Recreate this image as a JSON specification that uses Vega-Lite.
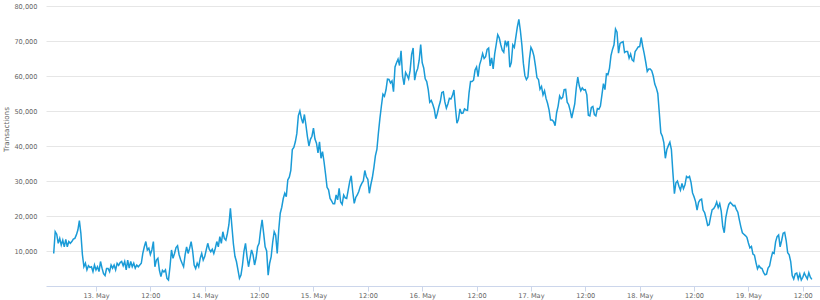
{
"$schema": "https://vega.github.io/schema/vega-lite/v6.json",
"width": 774, "height": 280,
"autosize": "none",
"padding": {"left": 46, "top": 6, "right": 0, "bottom": 14},
"background": "white",
"config": {"view": {"stroke": null}, "font": "DejaVu Sans"},
"data": {"values": [
{"t":"2018-05-12T14:40:00Z","v":9300},{"t":"2018-05-12T15:00:00Z","v":15500},{"t":"2018-05-12T15:20:00Z","v":14800},{"t":"2018-05-12T15:40:00Z","v":12200},{"t":"2018-05-12T16:00:00Z","v":13600},{"t":"2018-05-12T16:20:00Z","v":11700},{"t":"2018-05-12T16:40:00Z","v":13100},{"t":"2018-05-12T17:00:00Z","v":11200},{"t":"2018-05-12T17:20:00Z","v":13300},{"t":"2018-05-12T17:40:00Z","v":11200},{"t":"2018-05-12T18:00:00Z","v":12700},{"t":"2018-05-12T18:20:00Z","v":12200},{"t":"2018-05-12T18:40:00Z","v":12700},{"t":"2018-05-12T19:00:00Z","v":13400},{"t":"2018-05-12T19:20:00Z","v":13600},{"t":"2018-05-12T19:40:00Z","v":14600},{"t":"2018-05-12T20:00:00Z","v":16000},{"t":"2018-05-12T20:20:00Z","v":18700},{"t":"2018-05-12T20:40:00Z","v":15000},{"t":"2018-05-12T21:00:00Z","v":9000},{"t":"2018-05-12T21:20:00Z","v":5500},{"t":"2018-05-12T21:40:00Z","v":6500},{"t":"2018-05-12T22:00:00Z","v":4600},{"t":"2018-05-12T22:20:00Z","v":5800},{"t":"2018-05-12T22:40:00Z","v":5300},{"t":"2018-05-12T23:00:00Z","v":5500},{"t":"2018-05-12T23:20:00Z","v":4100},{"t":"2018-05-12T23:40:00Z","v":6000},
{"t":"2018-05-13T00:00:00Z","v":4600},{"t":"2018-05-13T00:20:00Z","v":5500},{"t":"2018-05-13T00:40:00Z","v":4100},{"t":"2018-05-13T01:00:00Z","v":7000},{"t":"2018-05-13T01:20:00Z","v":5100},{"t":"2018-05-13T01:40:00Z","v":3500},{"t":"2018-05-13T02:00:00Z","v":3000},{"t":"2018-05-13T02:20:00Z","v":5000},{"t":"2018-05-13T02:40:00Z","v":5000},{"t":"2018-05-13T03:00:00Z","v":4100},{"t":"2018-05-13T03:20:00Z","v":6000},{"t":"2018-05-13T03:40:00Z","v":5100},{"t":"2018-05-13T04:00:00Z","v":6000},{"t":"2018-05-13T04:20:00Z","v":4600},{"t":"2018-05-13T04:40:00Z","v":6500},{"t":"2018-05-13T05:00:00Z","v":5900},{"t":"2018-05-13T05:20:00Z","v":6700},{"t":"2018-05-13T05:40:00Z","v":7000},{"t":"2018-05-13T06:00:00Z","v":5800},{"t":"2018-05-13T06:20:00Z","v":7000},{"t":"2018-05-13T06:40:00Z","v":4600},{"t":"2018-05-13T07:00:00Z","v":7400},{"t":"2018-05-13T07:20:00Z","v":5100},{"t":"2018-05-13T07:40:00Z","v":7000},{"t":"2018-05-13T08:00:00Z","v":5500},{"t":"2018-05-13T08:20:00Z","v":6500},{"t":"2018-05-13T08:40:00Z","v":5100},{"t":"2018-05-13T09:00:00Z","v":6000},{"t":"2018-05-13T09:20:00Z","v":5500},{"t":"2018-05-13T09:40:00Z","v":6000},{"t":"2018-05-13T10:00:00Z","v":6500},{"t":"2018-05-13T10:20:00Z","v":9300},{"t":"2018-05-13T10:40:00Z","v":11200},{"t":"2018-05-13T11:00:00Z","v":12700},{"t":"2018-05-13T11:20:00Z","v":10300},{"t":"2018-05-13T11:40:00Z","v":10800},{"t":"2018-05-13T12:00:00Z","v":9000},{"t":"2018-05-13T12:20:00Z","v":10300},{"t":"2018-05-13T12:40:00Z","v":12700},{"t":"2018-05-13T13:00:00Z","v":5500},{"t":"2018-05-13T13:20:00Z","v":7400},{"t":"2018-05-13T13:40:00Z","v":7900},{"t":"2018-05-13T14:00:00Z","v":4500},{"t":"2018-05-13T14:20:00Z","v":2700},{"t":"2018-05-13T14:40:00Z","v":4500},{"t":"2018-05-13T15:00:00Z","v":4000},{"t":"2018-05-13T15:20:00Z","v":4600},{"t":"2018-05-13T15:40:00Z","v":2200},{"t":"2018-05-13T16:00:00Z","v":1700},{"t":"2018-05-13T16:20:00Z","v":5500},{"t":"2018-05-13T16:40:00Z","v":10300},{"t":"2018-05-13T17:00:00Z","v":7900},{"t":"2018-05-13T17:20:00Z","v":9300},{"t":"2018-05-13T17:40:00Z","v":11000},{"t":"2018-05-13T18:00:00Z","v":11500},{"t":"2018-05-13T18:20:00Z","v":9000},{"t":"2018-05-13T18:40:00Z","v":7600},{"t":"2018-05-13T19:00:00Z","v":6500},{"t":"2018-05-13T19:20:00Z","v":5500},{"t":"2018-05-13T19:40:00Z","v":8900},{"t":"2018-05-13T20:00:00Z","v":11200},{"t":"2018-05-13T20:20:00Z","v":9300},{"t":"2018-05-13T20:40:00Z","v":10800},{"t":"2018-05-13T21:00:00Z","v":12700},{"t":"2018-05-13T21:20:00Z","v":10000},{"t":"2018-05-13T21:40:00Z","v":6000},{"t":"2018-05-13T22:00:00Z","v":5000},{"t":"2018-05-13T22:20:00Z","v":6500},{"t":"2018-05-13T22:40:00Z","v":5500},{"t":"2018-05-13T23:00:00Z","v":7900},{"t":"2018-05-13T23:20:00Z","v":9300},{"t":"2018-05-13T23:40:00Z","v":7400},
{"t":"2018-05-14T00:00:00Z","v":8400},{"t":"2018-05-14T00:20:00Z","v":10300},{"t":"2018-05-14T00:40:00Z","v":12200},{"t":"2018-05-14T01:00:00Z","v":10500},{"t":"2018-05-14T01:20:00Z","v":9800},{"t":"2018-05-14T01:40:00Z","v":10500},{"t":"2018-05-14T02:00:00Z","v":9300},{"t":"2018-05-14T02:20:00Z","v":10800},{"t":"2018-05-14T02:40:00Z","v":12700},{"t":"2018-05-14T03:00:00Z","v":11200},{"t":"2018-05-14T03:20:00Z","v":14100},{"t":"2018-05-14T03:40:00Z","v":12200},{"t":"2018-05-14T04:00:00Z","v":15500},{"t":"2018-05-14T04:20:00Z","v":13600},{"t":"2018-05-14T04:40:00Z","v":13100},{"t":"2018-05-14T05:00:00Z","v":15000},{"t":"2018-05-14T05:20:00Z","v":17500},{"t":"2018-05-14T05:40:00Z","v":22200},{"t":"2018-05-14T06:00:00Z","v":17000},{"t":"2018-05-14T06:20:00Z","v":12000},{"t":"2018-05-14T06:40:00Z","v":8500},{"t":"2018-05-14T07:00:00Z","v":7000},{"t":"2018-05-14T07:20:00Z","v":4600},{"t":"2018-05-14T07:40:00Z","v":2200},{"t":"2018-05-14T08:00:00Z","v":3100},{"t":"2018-05-14T08:20:00Z","v":6000},{"t":"2018-05-14T08:40:00Z","v":10000},{"t":"2018-05-14T09:00:00Z","v":12200},{"t":"2018-05-14T09:20:00Z","v":8400},{"t":"2018-05-14T09:40:00Z","v":5500},{"t":"2018-05-14T10:00:00Z","v":7900},{"t":"2018-05-14T10:20:00Z","v":10300},{"t":"2018-05-14T10:40:00Z","v":8900},{"t":"2018-05-14T11:00:00Z","v":6000},{"t":"2018-05-14T11:20:00Z","v":8000},{"t":"2018-05-14T11:40:00Z","v":11200},{"t":"2018-05-14T12:00:00Z","v":12200},{"t":"2018-05-14T12:20:00Z","v":16000},{"t":"2018-05-14T12:40:00Z","v":18900},{"t":"2018-05-14T13:00:00Z","v":15100},{"t":"2018-05-14T13:20:00Z","v":11200},{"t":"2018-05-14T13:40:00Z","v":10000},{"t":"2018-05-14T14:00:00Z","v":3100},{"t":"2018-05-14T14:20:00Z","v":6500},{"t":"2018-05-14T14:40:00Z","v":8400},{"t":"2018-05-14T15:00:00Z","v":12500},{"t":"2018-05-14T15:20:00Z","v":15500},{"t":"2018-05-14T15:40:00Z","v":14500},{"t":"2018-05-14T16:00:00Z","v":9300},{"t":"2018-05-14T16:20:00Z","v":16000},{"t":"2018-05-14T16:40:00Z","v":20800},{"t":"2018-05-14T17:00:00Z","v":22500},{"t":"2018-05-14T17:20:00Z","v":25000},{"t":"2018-05-14T17:40:00Z","v":26500},{"t":"2018-05-14T18:00:00Z","v":25500},{"t":"2018-05-14T18:20:00Z","v":30300},{"t":"2018-05-14T18:40:00Z","v":31100},{"t":"2018-05-14T19:00:00Z","v":33000},{"t":"2018-05-14T19:20:00Z","v":39000},{"t":"2018-05-14T19:40:00Z","v":39600},{"t":"2018-05-14T20:00:00Z","v":41200},{"t":"2018-05-14T20:20:00Z","v":43600},{"t":"2018-05-14T20:40:00Z","v":48700},{"t":"2018-05-14T21:00:00Z","v":50000},{"t":"2018-05-14T21:20:00Z","v":47900},{"t":"2018-05-14T21:40:00Z","v":46500},{"t":"2018-05-14T22:00:00Z","v":49000},{"t":"2018-05-14T22:20:00Z","v":46000},{"t":"2018-05-14T22:40:00Z","v":42700},{"t":"2018-05-14T23:00:00Z","v":40000},{"t":"2018-05-14T23:20:00Z","v":41900},{"t":"2018-05-14T23:40:00Z","v":42800},
{"t":"2018-05-15T00:00:00Z","v":45100},{"t":"2018-05-15T00:20:00Z","v":42000},{"t":"2018-05-15T00:40:00Z","v":40800},{"t":"2018-05-15T01:00:00Z","v":38000},{"t":"2018-05-15T01:20:00Z","v":41200},{"t":"2018-05-15T01:40:00Z","v":36500},{"t":"2018-05-15T02:00:00Z","v":38400},{"t":"2018-05-15T02:20:00Z","v":35500},{"t":"2018-05-15T02:40:00Z","v":32000},{"t":"2018-05-15T03:00:00Z","v":28200},{"t":"2018-05-15T03:20:00Z","v":27500},{"t":"2018-05-15T03:40:00Z","v":25000},{"t":"2018-05-15T04:00:00Z","v":24300},{"t":"2018-05-15T04:20:00Z","v":23500},{"t":"2018-05-15T04:40:00Z","v":23500},{"t":"2018-05-15T05:00:00Z","v":26000},{"t":"2018-05-15T05:20:00Z","v":24600},{"t":"2018-05-15T05:40:00Z","v":27900},{"t":"2018-05-15T06:00:00Z","v":24000},{"t":"2018-05-15T06:20:00Z","v":23300},{"t":"2018-05-15T06:40:00Z","v":26000},{"t":"2018-05-15T07:00:00Z","v":25200},{"t":"2018-05-15T07:20:00Z","v":25000},{"t":"2018-05-15T07:40:00Z","v":27400},{"t":"2018-05-15T08:00:00Z","v":29800},{"t":"2018-05-15T08:20:00Z","v":31500},{"t":"2018-05-15T08:40:00Z","v":27000},{"t":"2018-05-15T09:00:00Z","v":23600},{"t":"2018-05-15T09:20:00Z","v":25300},{"t":"2018-05-15T09:40:00Z","v":26000},{"t":"2018-05-15T10:00:00Z","v":27000},{"t":"2018-05-15T10:20:00Z","v":28400},{"t":"2018-05-15T10:40:00Z","v":29300},{"t":"2018-05-15T11:00:00Z","v":30000},{"t":"2018-05-15T11:20:00Z","v":33000},{"t":"2018-05-15T11:40:00Z","v":31200},{"t":"2018-05-15T12:00:00Z","v":30500},{"t":"2018-05-15T12:20:00Z","v":26500},{"t":"2018-05-15T12:40:00Z","v":29000},{"t":"2018-05-15T13:00:00Z","v":31000},{"t":"2018-05-15T13:20:00Z","v":33800},{"t":"2018-05-15T13:40:00Z","v":37200},{"t":"2018-05-15T14:00:00Z","v":39000},{"t":"2018-05-15T14:20:00Z","v":43700},{"t":"2018-05-15T14:40:00Z","v":47900},{"t":"2018-05-15T15:00:00Z","v":51500},{"t":"2018-05-15T15:20:00Z","v":54800},{"t":"2018-05-15T15:40:00Z","v":54200},{"t":"2018-05-15T16:00:00Z","v":56000},{"t":"2018-05-15T16:20:00Z","v":59100},{"t":"2018-05-15T16:40:00Z","v":59000},{"t":"2018-05-15T17:00:00Z","v":58000},{"t":"2018-05-15T17:20:00Z","v":58600},{"t":"2018-05-15T17:40:00Z","v":55500},{"t":"2018-05-15T18:00:00Z","v":62600},{"t":"2018-05-15T18:20:00Z","v":63800},{"t":"2018-05-15T18:40:00Z","v":64800},{"t":"2018-05-15T19:00:00Z","v":63000},{"t":"2018-05-15T19:20:00Z","v":67200},{"t":"2018-05-15T19:40:00Z","v":60000},{"t":"2018-05-15T20:00:00Z","v":57500},{"t":"2018-05-15T20:20:00Z","v":61000},{"t":"2018-05-15T20:40:00Z","v":60200},{"t":"2018-05-15T21:00:00Z","v":59200},{"t":"2018-05-15T21:20:00Z","v":61600},{"t":"2018-05-15T21:40:00Z","v":66200},{"t":"2018-05-15T22:00:00Z","v":68000},{"t":"2018-05-15T22:20:00Z","v":58800},{"t":"2018-05-15T22:40:00Z","v":61000},{"t":"2018-05-15T23:00:00Z","v":62100},{"t":"2018-05-15T23:20:00Z","v":64500},{"t":"2018-05-15T23:40:00Z","v":69000},
{"t":"2018-05-16T00:00:00Z","v":63800},{"t":"2018-05-16T00:20:00Z","v":62300},{"t":"2018-05-16T00:40:00Z","v":59200},{"t":"2018-05-16T01:00:00Z","v":58400},{"t":"2018-05-16T01:20:00Z","v":56100},{"t":"2018-05-16T01:40:00Z","v":52500},{"t":"2018-05-16T02:00:00Z","v":53000},{"t":"2018-05-16T02:20:00Z","v":51900},{"t":"2018-05-16T02:40:00Z","v":50500},{"t":"2018-05-16T03:00:00Z","v":47800},{"t":"2018-05-16T03:20:00Z","v":49300},{"t":"2018-05-16T03:40:00Z","v":51200},{"t":"2018-05-16T04:00:00Z","v":52700},{"t":"2018-05-16T04:20:00Z","v":55300},{"t":"2018-05-16T04:40:00Z","v":55500},{"t":"2018-05-16T05:00:00Z","v":52600},{"t":"2018-05-16T05:20:00Z","v":50800},{"t":"2018-05-16T05:40:00Z","v":52000},{"t":"2018-05-16T06:00:00Z","v":53600},{"t":"2018-05-16T06:20:00Z","v":53400},{"t":"2018-05-16T06:40:00Z","v":54400},{"t":"2018-05-16T07:00:00Z","v":56000},{"t":"2018-05-16T07:20:00Z","v":51000},{"t":"2018-05-16T07:40:00Z","v":46500},{"t":"2018-05-16T08:00:00Z","v":47600},{"t":"2018-05-16T08:20:00Z","v":50600},{"t":"2018-05-16T08:40:00Z","v":49300},{"t":"2018-05-16T09:00:00Z","v":49400},{"t":"2018-05-16T09:20:00Z","v":50600},{"t":"2018-05-16T09:40:00Z","v":50300},{"t":"2018-05-16T10:00:00Z","v":50200},{"t":"2018-05-16T10:20:00Z","v":55100},{"t":"2018-05-16T10:40:00Z","v":58400},{"t":"2018-05-16T11:00:00Z","v":58400},{"t":"2018-05-16T11:20:00Z","v":58800},{"t":"2018-05-16T11:40:00Z","v":61700},{"t":"2018-05-16T12:00:00Z","v":62600},{"t":"2018-05-16T12:20:00Z","v":59800},{"t":"2018-05-16T12:40:00Z","v":63200},{"t":"2018-05-16T13:00:00Z","v":64600},{"t":"2018-05-16T13:20:00Z","v":66400},{"t":"2018-05-16T13:40:00Z","v":65000},{"t":"2018-05-16T14:00:00Z","v":65500},{"t":"2018-05-16T14:20:00Z","v":67600},{"t":"2018-05-16T14:40:00Z","v":68000},{"t":"2018-05-16T15:00:00Z","v":62900},{"t":"2018-05-16T15:20:00Z","v":65200},{"t":"2018-05-16T15:40:00Z","v":62000},{"t":"2018-05-16T16:00:00Z","v":66300},{"t":"2018-05-16T16:20:00Z","v":69000},{"t":"2018-05-16T16:40:00Z","v":71800},{"t":"2018-05-16T17:00:00Z","v":70900},{"t":"2018-05-16T17:20:00Z","v":69000},{"t":"2018-05-16T17:40:00Z","v":67400},{"t":"2018-05-16T18:00:00Z","v":66800},{"t":"2018-05-16T18:20:00Z","v":70100},{"t":"2018-05-16T18:40:00Z","v":68700},{"t":"2018-05-16T19:00:00Z","v":70000},{"t":"2018-05-16T19:20:00Z","v":62500},{"t":"2018-05-16T19:40:00Z","v":63800},{"t":"2018-05-16T20:00:00Z","v":68900},{"t":"2018-05-16T20:20:00Z","v":68200},{"t":"2018-05-16T20:40:00Z","v":71100},{"t":"2018-05-16T21:00:00Z","v":74000},{"t":"2018-05-16T21:20:00Z","v":76200},{"t":"2018-05-16T21:40:00Z","v":73000},{"t":"2018-05-16T22:00:00Z","v":68900},{"t":"2018-05-16T22:20:00Z","v":63600},{"t":"2018-05-16T22:40:00Z","v":60100},{"t":"2018-05-16T23:00:00Z","v":59000},{"t":"2018-05-16T23:20:00Z","v":59700},{"t":"2018-05-16T23:40:00Z","v":64800},
{"t":"2018-05-17T00:00:00Z","v":68200},{"t":"2018-05-17T00:20:00Z","v":67300},{"t":"2018-05-17T00:40:00Z","v":65700},{"t":"2018-05-17T01:00:00Z","v":62800},{"t":"2018-05-17T01:20:00Z","v":59500},{"t":"2018-05-17T01:40:00Z","v":59000},{"t":"2018-05-17T02:00:00Z","v":56200},{"t":"2018-05-17T02:20:00Z","v":57000},{"t":"2018-05-17T02:40:00Z","v":54600},{"t":"2018-05-17T03:00:00Z","v":55800},{"t":"2018-05-17T03:20:00Z","v":53600},{"t":"2018-05-17T03:40:00Z","v":52200},{"t":"2018-05-17T04:00:00Z","v":50300},{"t":"2018-05-17T04:20:00Z","v":47400},{"t":"2018-05-17T04:40:00Z","v":47400},{"t":"2018-05-17T05:00:00Z","v":47000},{"t":"2018-05-17T05:20:00Z","v":45800},{"t":"2018-05-17T05:40:00Z","v":49500},{"t":"2018-05-17T06:00:00Z","v":51400},{"t":"2018-05-17T06:20:00Z","v":54300},{"t":"2018-05-17T06:40:00Z","v":53500},{"t":"2018-05-17T07:00:00Z","v":53900},{"t":"2018-05-17T07:20:00Z","v":56100},{"t":"2018-05-17T07:40:00Z","v":56200},{"t":"2018-05-17T08:00:00Z","v":52500},{"t":"2018-05-17T08:20:00Z","v":51800},{"t":"2018-05-17T08:40:00Z","v":50100},{"t":"2018-05-17T09:00:00Z","v":48000},{"t":"2018-05-17T09:20:00Z","v":50000},{"t":"2018-05-17T09:40:00Z","v":52000},{"t":"2018-05-17T10:00:00Z","v":56500},{"t":"2018-05-17T10:20:00Z","v":59700},{"t":"2018-05-17T10:40:00Z","v":57200},{"t":"2018-05-17T11:00:00Z","v":55800},{"t":"2018-05-17T11:20:00Z","v":56600},{"t":"2018-05-17T11:40:00Z","v":56000},{"t":"2018-05-17T12:00:00Z","v":56100},{"t":"2018-05-17T12:20:00Z","v":54600},{"t":"2018-05-17T12:40:00Z","v":48800},{"t":"2018-05-17T13:00:00Z","v":48600},{"t":"2018-05-17T13:20:00Z","v":51000},{"t":"2018-05-17T13:40:00Z","v":51300},{"t":"2018-05-17T14:00:00Z","v":49000},{"t":"2018-05-17T14:20:00Z","v":48600},{"t":"2018-05-17T14:40:00Z","v":50700},{"t":"2018-05-17T15:00:00Z","v":50500},{"t":"2018-05-17T15:20:00Z","v":51400},{"t":"2018-05-17T15:40:00Z","v":54600},{"t":"2018-05-17T16:00:00Z","v":57800},{"t":"2018-05-17T16:20:00Z","v":56100},{"t":"2018-05-17T16:40:00Z","v":60600},{"t":"2018-05-17T17:00:00Z","v":60400},{"t":"2018-05-17T17:20:00Z","v":62200},{"t":"2018-05-17T17:40:00Z","v":65800},{"t":"2018-05-17T18:00:00Z","v":67600},{"t":"2018-05-17T18:20:00Z","v":68900},{"t":"2018-05-17T18:40:00Z","v":73400},{"t":"2018-05-17T19:00:00Z","v":72500},{"t":"2018-05-17T19:20:00Z","v":66500},{"t":"2018-05-17T19:40:00Z","v":69300},{"t":"2018-05-17T20:00:00Z","v":69600},{"t":"2018-05-17T20:20:00Z","v":69800},{"t":"2018-05-17T20:40:00Z","v":66700},{"t":"2018-05-17T21:00:00Z","v":67000},{"t":"2018-05-17T21:20:00Z","v":67000},{"t":"2018-05-17T21:40:00Z","v":65100},{"t":"2018-05-17T22:00:00Z","v":66300},{"t":"2018-05-17T22:20:00Z","v":64600},{"t":"2018-05-17T22:40:00Z","v":64200},{"t":"2018-05-17T23:00:00Z","v":67000},{"t":"2018-05-17T23:20:00Z","v":67600},{"t":"2018-05-17T23:40:00Z","v":68300},
{"t":"2018-05-18T00:00:00Z","v":68400},{"t":"2018-05-18T00:20:00Z","v":71000},{"t":"2018-05-18T00:40:00Z","v":68500},{"t":"2018-05-18T01:00:00Z","v":66400},{"t":"2018-05-18T01:20:00Z","v":64000},{"t":"2018-05-18T01:40:00Z","v":61300},{"t":"2018-05-18T02:00:00Z","v":62000},{"t":"2018-05-18T02:20:00Z","v":62000},{"t":"2018-05-18T02:40:00Z","v":61500},{"t":"2018-05-18T03:00:00Z","v":60000},{"t":"2018-05-18T03:20:00Z","v":57700},{"t":"2018-05-18T03:40:00Z","v":56600},{"t":"2018-05-18T04:00:00Z","v":55000},{"t":"2018-05-18T04:20:00Z","v":49500},{"t":"2018-05-18T04:40:00Z","v":43800},{"t":"2018-05-18T05:00:00Z","v":42800},{"t":"2018-05-18T05:20:00Z","v":41000},{"t":"2018-05-18T05:40:00Z","v":36500},{"t":"2018-05-18T06:00:00Z","v":39000},{"t":"2018-05-18T06:20:00Z","v":40100},{"t":"2018-05-18T06:40:00Z","v":41100},{"t":"2018-05-18T07:00:00Z","v":39000},{"t":"2018-05-18T07:20:00Z","v":32400},{"t":"2018-05-18T07:40:00Z","v":26400},{"t":"2018-05-18T08:00:00Z","v":29500},{"t":"2018-05-18T08:20:00Z","v":30000},{"t":"2018-05-18T08:40:00Z","v":28500},{"t":"2018-05-18T09:00:00Z","v":27400},{"t":"2018-05-18T09:20:00Z","v":29300},{"t":"2018-05-18T09:40:00Z","v":27800},{"t":"2018-05-18T10:00:00Z","v":28900},{"t":"2018-05-18T10:20:00Z","v":31300},{"t":"2018-05-18T10:40:00Z","v":30900},{"t":"2018-05-18T11:00:00Z","v":31300},{"t":"2018-05-18T11:20:00Z","v":29600},{"t":"2018-05-18T11:40:00Z","v":26600},{"t":"2018-05-18T12:00:00Z","v":25500},{"t":"2018-05-18T12:20:00Z","v":24100},{"t":"2018-05-18T12:40:00Z","v":21700},{"t":"2018-05-18T13:00:00Z","v":23900},{"t":"2018-05-18T13:20:00Z","v":24600},{"t":"2018-05-18T13:40:00Z","v":24800},{"t":"2018-05-18T14:00:00Z","v":21700},{"t":"2018-05-18T14:20:00Z","v":21000},{"t":"2018-05-18T14:40:00Z","v":19300},{"t":"2018-05-18T15:00:00Z","v":17300},{"t":"2018-05-18T15:20:00Z","v":17500},{"t":"2018-05-18T15:40:00Z","v":19800},{"t":"2018-05-18T16:00:00Z","v":21800},{"t":"2018-05-18T16:20:00Z","v":22100},{"t":"2018-05-18T16:40:00Z","v":22800},{"t":"2018-05-18T17:00:00Z","v":24000},{"t":"2018-05-18T17:20:00Z","v":22400},{"t":"2018-05-18T17:40:00Z","v":23500},{"t":"2018-05-18T18:00:00Z","v":21400},{"t":"2018-05-18T18:20:00Z","v":17000},{"t":"2018-05-18T18:40:00Z","v":15200},{"t":"2018-05-18T19:00:00Z","v":19500},{"t":"2018-05-18T19:20:00Z","v":21700},{"t":"2018-05-18T19:40:00Z","v":23300},{"t":"2018-05-18T20:00:00Z","v":23900},{"t":"2018-05-18T20:20:00Z","v":23400},{"t":"2018-05-18T20:40:00Z","v":22900},{"t":"2018-05-18T21:00:00Z","v":23000},{"t":"2018-05-18T21:20:00Z","v":21900},{"t":"2018-05-18T21:40:00Z","v":21100},{"t":"2018-05-18T22:00:00Z","v":18900},{"t":"2018-05-18T22:20:00Z","v":16900},{"t":"2018-05-18T22:40:00Z","v":15200},{"t":"2018-05-18T23:00:00Z","v":14800},{"t":"2018-05-18T23:20:00Z","v":14400},{"t":"2018-05-18T23:40:00Z","v":13900},
{"t":"2018-05-19T00:00:00Z","v":12300},{"t":"2018-05-19T00:20:00Z","v":10900},{"t":"2018-05-19T00:40:00Z","v":11300},{"t":"2018-05-19T01:00:00Z","v":9100},{"t":"2018-05-19T01:20:00Z","v":8800},{"t":"2018-05-19T01:40:00Z","v":6700},{"t":"2018-05-19T02:00:00Z","v":4900},{"t":"2018-05-19T02:20:00Z","v":5800},{"t":"2018-05-19T02:40:00Z","v":5200},{"t":"2018-05-19T03:00:00Z","v":5000},{"t":"2018-05-19T03:20:00Z","v":3900},{"t":"2018-05-19T03:40:00Z","v":3200},{"t":"2018-05-19T04:00:00Z","v":3400},{"t":"2018-05-19T04:20:00Z","v":5100},{"t":"2018-05-19T04:40:00Z","v":5700},{"t":"2018-05-19T05:00:00Z","v":7900},{"t":"2018-05-19T05:20:00Z","v":9600},{"t":"2018-05-19T05:40:00Z","v":9300},{"t":"2018-05-19T06:00:00Z","v":12600},{"t":"2018-05-19T06:20:00Z","v":14100},{"t":"2018-05-19T06:40:00Z","v":14600},{"t":"2018-05-19T07:00:00Z","v":11200},{"t":"2018-05-19T07:20:00Z","v":13000},{"t":"2018-05-19T07:40:00Z","v":15100},{"t":"2018-05-19T08:00:00Z","v":15300},{"t":"2018-05-19T08:20:00Z","v":13000},{"t":"2018-05-19T08:40:00Z","v":9500},{"t":"2018-05-19T09:00:00Z","v":8900},{"t":"2018-05-19T09:20:00Z","v":7000},{"t":"2018-05-19T09:40:00Z","v":3000},{"t":"2018-05-19T10:00:00Z","v":2000},{"t":"2018-05-19T10:20:00Z","v":3500},{"t":"2018-05-19T10:40:00Z","v":3700},{"t":"2018-05-19T11:00:00Z","v":2000},{"t":"2018-05-19T11:20:00Z","v":3400},{"t":"2018-05-19T11:40:00Z","v":1700},{"t":"2018-05-19T12:00:00Z","v":2500},{"t":"2018-05-19T12:20:00Z","v":3700},{"t":"2018-05-19T12:40:00Z","v":2800},{"t":"2018-05-19T13:00:00Z","v":2000},{"t":"2018-05-19T13:20:00Z","v":3800},{"t":"2018-05-19T13:40:00Z","v":2500},{"t":"2018-05-19T14:00:00Z","v":1900}
]},
"mark": {"type": "line", "color": "#1a9bd7", "strokeWidth": 1.5, "clip": true},
"encoding": {
  "x": {"field": "t", "type": "temporal",
    "scale": {"type": "utc", "domain": [{"year": 2018, "month": 5, "date": 12, "hours": 12, "minutes": 58, "utc": true}, {"year": 2018, "month": 5, "date": 19, "hours": 15, "minutes": 48, "utc": true}]},
    "axis": {"title": null, "grid": false, "domainColor": "#ccd6eb", "tickColor": "#ccd6eb", "tickSize": 5, "labelPadding": 1,
      "labelFontSize": 6.6, "labelColor": "#666666",
      "labelExpr": "utcFormat(datum.value, '%H') == '00' ? utcFormat(datum.value, '%d. %b') : utcFormat(datum.value, '%H:%M')"}},
  "y": {"field": "v", "type": "quantitative",
    "scale": {"domain": [0, 80000], "nice": false},
    "axis": {"title": "Transactions", "values": [10000, 20000, 30000, 40000, 50000, 60000, 70000, 80000], "format": ",.0f",
      "grid": true, "gridColor": "#e6e6e6", "domain": false, "ticks": false, "labelPadding": 9,
      "labelFontSize": 6.6, "labelColor": "#666666",
      "titleFontSize": 7.2, "titleFontWeight": "normal", "titleColor": "#666666",
      "titleX": -40, "titleY": 123, "titleAngle": 270, "titleAlign": "center", "titleBaseline": "middle"}}
}
}
